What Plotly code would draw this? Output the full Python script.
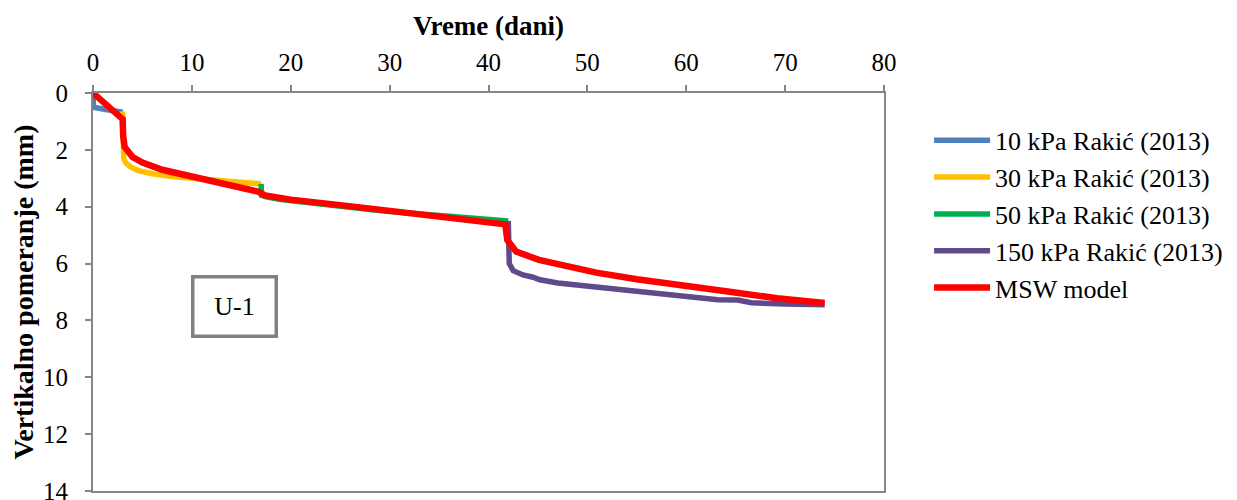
import plotly.graph_objects as go

# --- data ---
blue_x = [0, 0.05, 1.0, 2.0, 3.0]
blue_y = [0.02, 0.5, 0.56, 0.62, 0.68]

yellow_x = [3.0, 3.05, 3.1, 3.3, 3.8, 4.5, 6.0, 8.0, 10.0, 12.0, 14.0, 16.0, 17.0]
yellow_y = [0.65, 1.2, 2.3, 2.45, 2.6, 2.72, 2.84, 2.94, 3.0, 3.06, 3.12, 3.17, 3.2]

green_x = [17.0, 17.05, 17.5, 19.0, 21.0, 23.0, 25.7, 28.0, 30.0, 33.0, 36.0, 38.0, 40.0, 42.0]
green_y = [3.2, 3.6, 3.65, 3.75, 3.83, 3.92, 4.02, 4.1, 4.17, 4.25, 4.32, 4.38, 4.43, 4.5]

purple_x = [42.0, 42.05, 42.1, 42.5, 43.5, 44.5, 45.2, 47.0, 49.0, 51.0, 54.0, 57.6, 60.0, 63.2, 65.2, 66.6, 70.0, 74.0]
purple_y = [4.5, 5.2, 6.0, 6.25, 6.4, 6.48, 6.57, 6.68, 6.75, 6.8, 6.9, 7.03, 7.12, 7.27, 7.28, 7.38, 7.42, 7.45]

red_x = [0, 1.0, 2.0, 3.0, 3.05, 3.2, 4.0, 5.0, 7.0, 10.4, 13.0, 16.7, 17.4, 20.0, 25.7, 30.0, 33.8, 38.0,
         41.7, 41.9, 42.8, 45.1, 48.9, 50.9, 55.0, 61.0, 64.2, 69.2, 74.0]
red_y = [0, 0.33, 0.63, 0.92, 1.5, 1.9, 2.25, 2.45, 2.7, 2.98, 3.2, 3.47, 3.6, 3.75, 3.97, 4.15, 4.3, 4.47,
         4.62, 5.17, 5.58, 5.87, 6.16, 6.32, 6.55, 6.8, 6.98, 7.22, 7.39]

series = [
    ("10 kPa Rakić (2013)", blue_x, blue_y, "#4F81BD", 5.5),
    ("30 kPa Rakić (2013)", yellow_x, yellow_y, "#FFC000", 5.5),
    ("50 kPa Rakić (2013)", green_x, green_y, "#00B050", 5.5),
    ("150 kPa Rakić (2013)", purple_x, purple_y, "#5F4B8B", 5.5),
    ("MSW model", red_x, red_y, "#FF0000", 6.5),
]

x_ticks = [0, 10, 20, 30, 40, 50, 60, 70, 80]
y_ticks = [0, 2, 4, 6, 8, 10, 12, 14]

FONT = "Liberation Serif"
AXC = "#868686"

fig = go.Figure()
for name, xs, ys, col, w in series:
    fig.add_trace(go.Scatter(x=xs, y=ys, mode="lines", name=name,
                             line=dict(color=col, width=w, shape="linear"),
                             hoverinfo="skip"))

fig.add_annotation(x=14.3, y=7.52, xref="x", yref="y", text="U-1", showarrow=False,
                   font=dict(family=FONT, size=26, color="black"),
                   bordercolor="#808080", borderwidth=3.5, borderpad=0,
                   width=80, height=56, bgcolor="white")

# the page body adds an 8px offset, so the figure is sized to fit the window
fig.update_layout(
    width=1229, height=492,
    margin=dict(l=85, r=347, t=85, b=9),
    paper_bgcolor="white", plot_bgcolor="white",
    font=dict(family=FONT, size=25, color="black"),
    showlegend=True,
    legend=dict(x=1.057, y=0.94, xanchor="left", yanchor="top",
                font=dict(family=FONT, size=26, color="black"),
                tracegroupgap=0, itemwidth=56, bgcolor="rgba(0,0,0,0)"),
    xaxis=dict(range=[0, 80], side="top", tickvals=x_ticks, ticktext=[str(v) for v in x_ticks],
               showgrid=False, zeroline=False, showline=True, linecolor=AXC, linewidth=2,
               mirror=True, ticks="outside", ticklen=6, tickcolor=AXC, tickwidth=2,
               automargin=False, ticklabeloverflow="allow", ticklabelstandoff=4,
               tickfont=dict(family=FONT, size=25, color="black"),
               title=dict(text="<b>Vreme (dani)</b>", font=dict(family=FONT, size=27, color="black"),
                          standoff=6)),
    yaxis=dict(range=[14, 0], tickvals=y_ticks, ticktext=[str(v) for v in y_ticks],
               showgrid=False, zeroline=False, showline=True, linecolor=AXC, linewidth=2,
               mirror=True, ticks="outside", ticklen=6, tickcolor=AXC, tickwidth=2,
               automargin=False, ticklabeloverflow="allow", ticklabelstandoff=12,
               tickfont=dict(family=FONT, size=25, color="black"),
               title=dict(text="<b>Vertikalno pomeranje (mm)</b>",
                          font=dict(family=FONT, size=28, color="black"), standoff=3)),
)

fig.write_html("out.html")
